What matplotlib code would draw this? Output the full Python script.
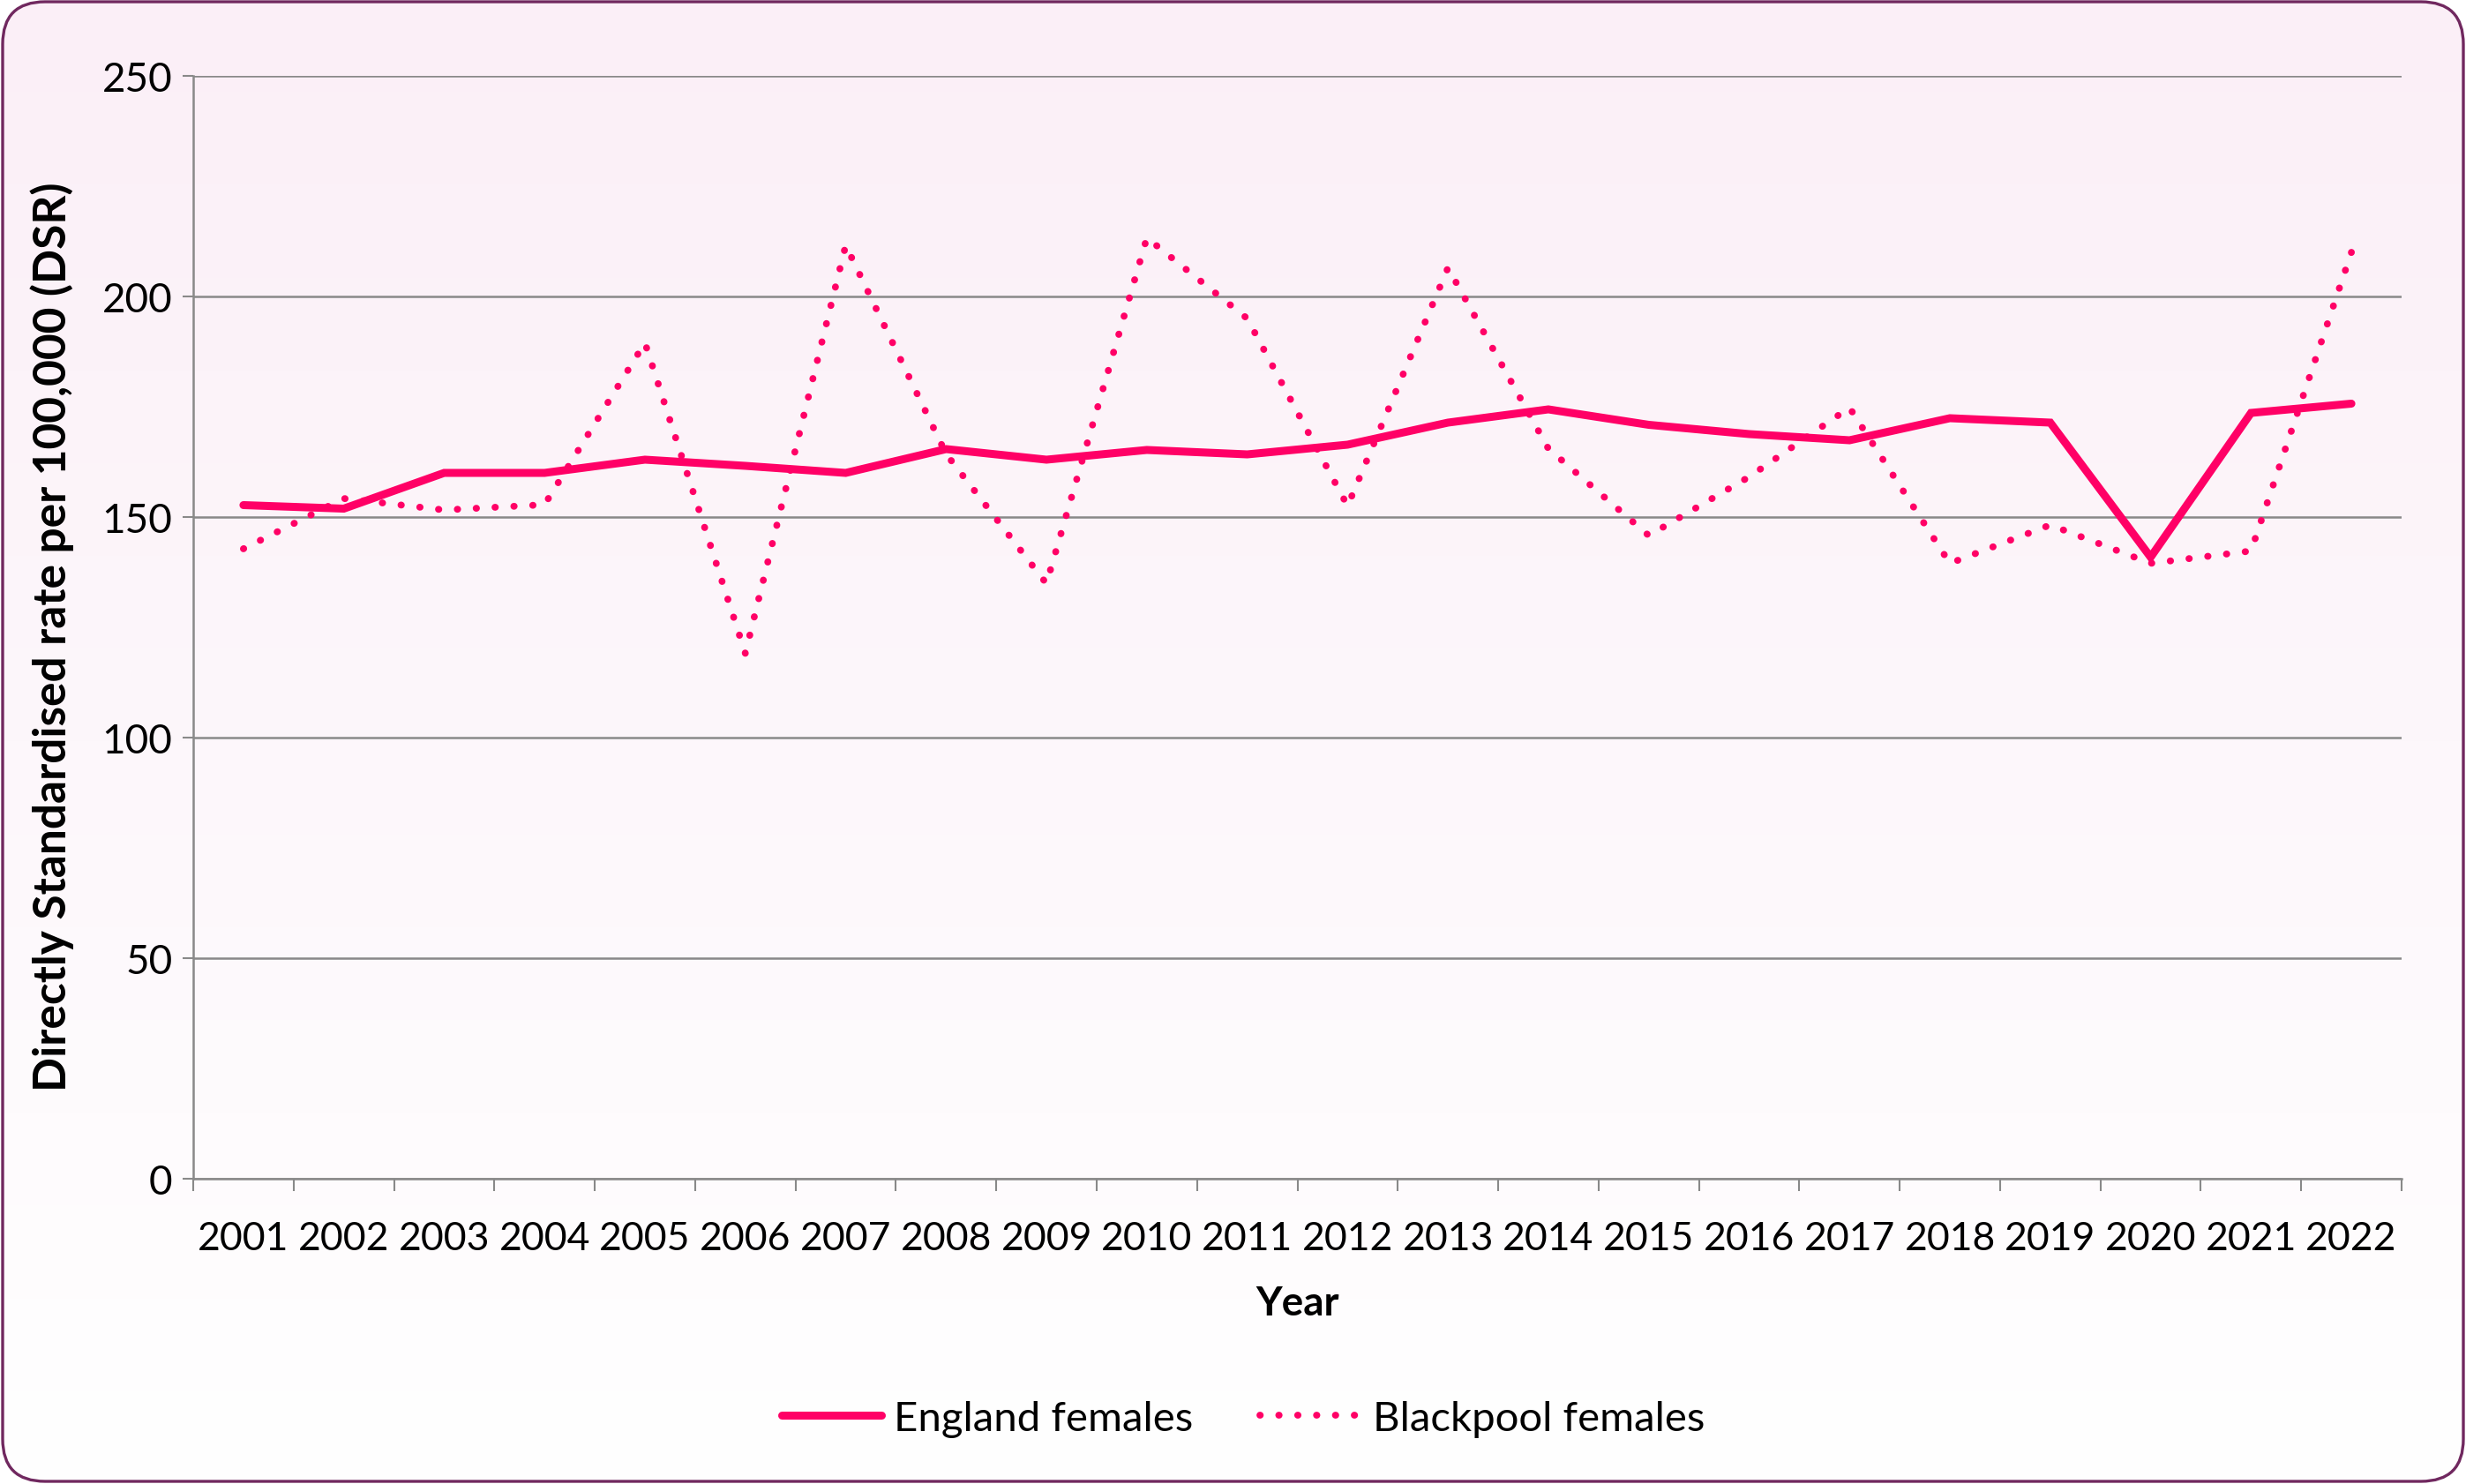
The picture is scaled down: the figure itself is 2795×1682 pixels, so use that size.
import numpy as np
import matplotlib
matplotlib.use("Agg")
import matplotlib.pyplot as plt
from matplotlib.patches import FancyBboxPatch

plt.rcParams['font.family'] = ['Lato', 'DejaVu Sans']

years = [str(y) for y in range(2001, 2023)]
england = [152.7, 151.9, 160.0, 160.0, 163.0, 161.6, 160.0, 165.4, 163.0, 165.2, 164.2,
           166.4, 171.4, 174.4, 170.9, 168.8, 167.4, 172.4, 171.4, 140.9, 173.6, 175.7]
blackpool = [142.8, 154.2, 151.6, 152.8, 189.5, 119.1, 211.6, 164.3, 134.9, 213.3, 195.0,
             152.5, 206.5, 165.5, 145.8, 159.1, 174.8, 139.5, 148.2, 139.5, 142.3, 210.0]
y_ticks = [0, 50, 100, 150, 200, 250]

W, H = 2795, 1683
DPI = 100
PINK = '#FF0066'
GRID = '#898989'

fig = plt.figure(figsize=(W / DPI, H / DPI), dpi=DPI)
fig.patch.set_facecolor('white')

# Background with rounded border and light gradient
bg = fig.add_axes([0, 0, 1, 1], zorder=-5)
bg.set_xlim(0, W)
bg.set_ylim(0, H)
bg.axis('off')
grad = np.linspace(0, 1, 256).reshape(-1, 1)
top = np.array([0xFB, 0xEF, 0xF7]) / 255.0
bot = np.array([1.0, 1.0, 1.0])
img = top[None, None, :] * (1 - grad[:, :, None]) + bot[None, None, :] * grad[:, :, None]
im = bg.imshow(img, extent=[0, W, 0, H], origin='upper', aspect='auto', zorder=0)
box = FancyBboxPatch((3, 3), W - 6, H - 6, boxstyle='round,pad=0,rounding_size=48',
                     facecolor='none', edgecolor='#70285F', linewidth=2.4, zorder=2)
bg.add_patch(box)
im.set_clip_path(box)

# Main plot axes
x0, x1, ytop, ybot = 219, 2722, 87, 1337
ax = fig.add_axes([x0 / W, (H - ybot) / H, (x1 - x0) / W, (ybot - ytop) / H])
ax.patch.set_alpha(0)
x = np.arange(len(years))

ax.plot(x, england, color=PINK, linewidth=6.5, solid_capstyle='round',
        solid_joinstyle='miter', label='England females', zorder=3)
ax.plot(x, blackpool, color=PINK, linewidth=5.6, linestyle=(0, (0.05, 2.7)),
        dash_capstyle='round', label='Blackpool females', zorder=3)

ax.set_xlim(-0.5, len(years) - 0.5)
ax.set_ylim(0, 250)
ax.set_yticks(y_ticks)
ax.set_xticks(x)
ax.set_xticklabels(years)
ax.set_xticks(np.arange(-0.5, len(years)), minor=True)
ax.tick_params(axis='x', which='major', length=0, pad=34, labelsize=32)
ax.tick_params(axis='x', which='minor', length=10, width=1.5, color=GRID, direction='out')
ax.tick_params(axis='y', length=9, width=1.5, color=GRID, pad=8, labelsize=33)
ax.yaxis.grid(True, color=GRID, linewidth=1.8)
ax.set_axisbelow(True)
for s in ['top', 'right']:
    ax.spines[s].set_visible(False)
for s in ['left', 'bottom']:
    ax.spines[s].set_color(GRID)
    ax.spines[s].set_linewidth(1.8)

fig.text(59 / W, 1 - 722 / H, 'Directly Standardised rate per 100,000 (DSR)',
         rotation=90, ha='center', va='center', fontsize=37, fontweight='bold')
fig.text((x0 + x1) / 2 / W, 1 - 1478 / H, 'Year', ha='center', va='center',
         fontsize=33, fontweight='bold')

fig.legend(loc='center', bbox_to_anchor=(1409 / W, 1 - 1609 / H), ncol=2,
           frameon=False, fontsize=34, handlelength=2.4, handletextpad=0.3,
           columnspacing=1.6)

fig.savefig('out.png', dpi=DPI)
